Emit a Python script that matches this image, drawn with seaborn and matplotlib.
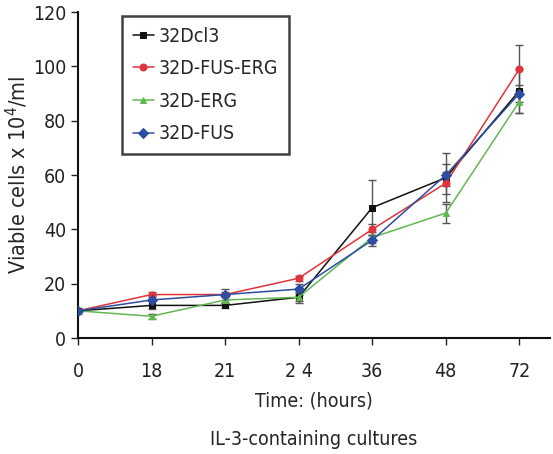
import numpy as np
import pandas as pd
import matplotlib
matplotlib.use("Agg")
import matplotlib.pyplot as plt
import seaborn as sns

times = ["0", "18", "21", "2 4", "36", "48", "72"]
series = ["32Dcl3", "32D-FUS-ERG", "32D-ERG", "32D-FUS"]
cl3 = [10, 12, 12, 15, 48, 59, 91]
fus_erg = [10, 16, 16, 22, 40, 57, 99]
erg = [10, 8, 14, 15, 37, 46, 87]
fus = [10, 14, 16, 18, 36, 60, 90]
cl3_err = [1, 1.5, 1, 2, 10, 9, 8]
fus_erg_err = [0.5, 1, 1, 1, 2, 4, 9]
erg_err = [0.5, 1, 1, 1.5, 2, 3.5, 4]
fus_err = [0.5, 2, 2, 2, 2, 4, 3]

colors = ["#111111", "#e0333a", "#62b850", "#2d4ea0"]
markers = ["s", "o", "^", "D"]

vals = [cl3, fus_erg, erg, fus]
errs = [cl3_err, fus_erg_err, erg_err, fus_err]
rows = []
for name, v, e in zip(series, vals, errs):
    for i, (t, y, s) in enumerate(zip(times, v, e)):
        rows.append({"pos": i, "time": t, "series": name, "cells": y, "err": s})
df = pd.DataFrame(rows)

sns.set_style("white")
plt.rcParams["font.family"] = ["DejaVu Sans"]
plt.rcParams["font.stretch"] = "condensed"

fig = plt.figure(figsize=(5.53, 4.54), dpi=100)
ax = fig.add_axes([0.141, 0.2555, 0.854, 0.718])

for name, c in zip(series, colors):
    d = df[df["series"] == name]
    ax.errorbar(d["pos"], d["cells"], yerr=d["err"], fmt="none", ecolor="#555555",
                elinewidth=1, capsize=3, capthick=1, zorder=1)

sns.lineplot(data=df, x="pos", y="cells", hue="series", style="series",
             hue_order=series, style_order=series, palette=colors,
             markers=markers, dashes=False, markersize=5, linewidth=1.1,
             markeredgecolor=None, ax=ax, zorder=3)

ax.set_xlim(0, 6.42)
ax.set_ylim(0, 120)
ax.set_xticks(range(len(times)))
ax.set_xticklabels(times)
ax.set_yticks(range(0, 121, 20))
ax.tick_params(axis="both", direction="out", length=5, width=1, labelsize=14,
               left=True, bottom=True, colors="#222222")
ax.tick_params(axis="x", pad=12)
for s in ["top", "right"]:
    ax.spines[s].set_visible(False)
for s in ["left", "bottom"]:
    ax.spines[s].set_color("#111111")
    ax.spines[s].set_linewidth(1.5)

ax.set_xlabel("Time: (hours)\nIL-3-containing cultures", fontsize=14,
              linespacing=2.3, labelpad=8)
ax.set_ylabel("Viable cells x 10$^4$/ml", fontsize=15.5, labelpad=2)

leg = ax.legend(loc="upper left", bbox_to_anchor=(0.093, 0.988), fontsize=14,
                frameon=True, fancybox=False, handlelength=1.1,
                handletextpad=0.25, labelspacing=0.7, borderpad=0.55,
                borderaxespad=0)
leg.get_frame().set_edgecolor("#111111")
leg.get_frame().set_linewidth(1.8)
leg.set_title(None)

fig.savefig("out.png", dpi=100)
